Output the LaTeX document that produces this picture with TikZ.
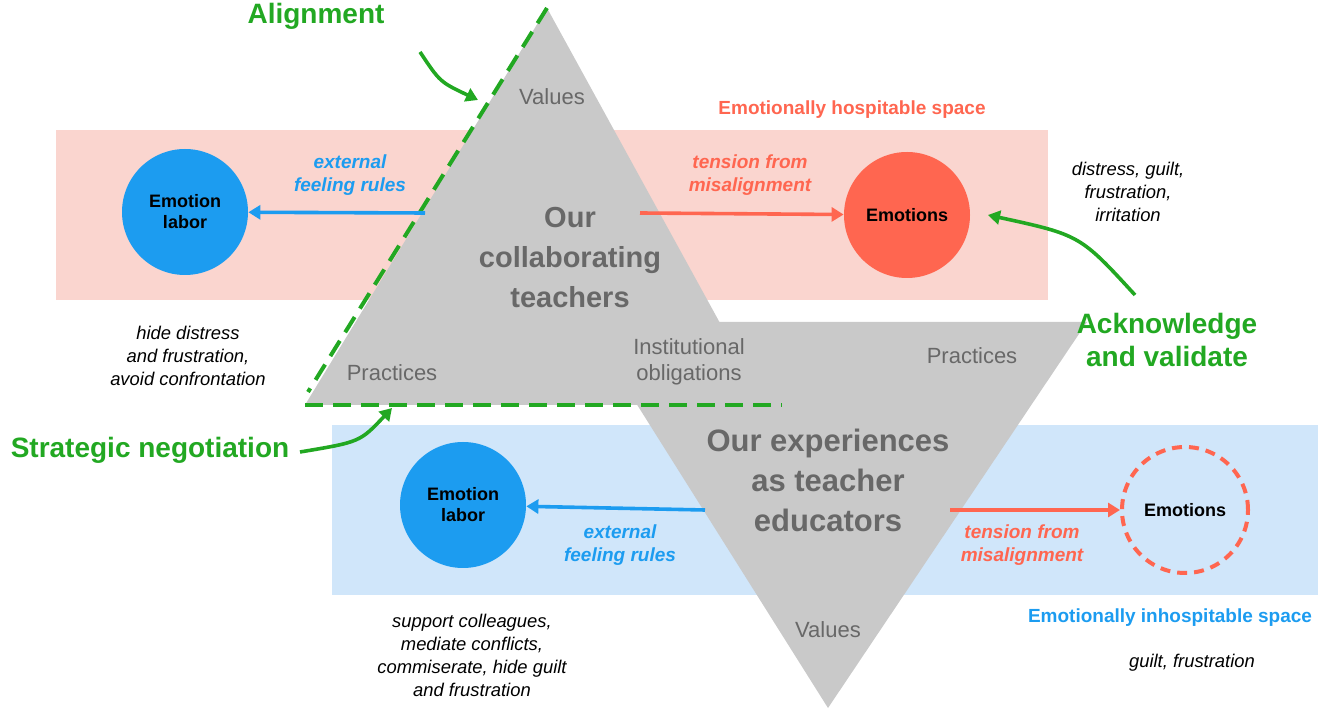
\documentclass[tikz,border=0pt]{standalone}
\usepackage{fontspec}
\setmainfont{Liberation Sans}
\usetikzlibrary{arrows.meta}
\definecolor{pinkbg}{HTML}{FAD5CF}
\definecolor{bluebg}{HTML}{D0E6FA}
\definecolor{tri}{HTML}{C9C9C9}
\definecolor{txtg}{HTML}{686868}
\definecolor{eblue}{HTML}{1C9CF0}
\definecolor{ered}{HTML}{FF6650}
\definecolor{grn}{HTML}{22A822}
\tikzset{
 circ/.style={circle,minimum size=63pt,inner sep=0pt,align=center,font=\fontsize{9}{10.5}\selectfont\bfseries},
 gtxt/.style={text=txtg,font=\fontsize{11}{13}\selectfont},
 bigt/.style={text=txtg,align=center,font=\fontsize{15.5}{20}\selectfont\bfseries},
 itx/.style={align=center,font=\fontsize{9.2}{11.5}\selectfont\itshape},
 lab/.style={align=center,font=\fontsize{9.5}{11.5}\selectfont\bfseries\itshape},
 arr/.style={line width=1.8pt,-{Triangle[length=6pt,width=7pt]}},
 garr/.style={grn,line width=1.8pt,-{Triangle[length=6pt,width=7pt]}},
 gl/.style={text=grn,align=center,font=\fontsize{14}{16.5}\selectfont\bfseries},
}
\begin{document}
\begin{tikzpicture}[x=0.5pt,y=-0.5pt]
\useasboundingbox (0,0) rectangle (1328,715);
\fill[pinkbg] (56,130) rectangle (1048,300);
\fill[bluebg] (332,425) rectangle (1318,595);
\fill[tri] (547,8) -- (305,405) -- (765,405) -- cycle;
\fill[tri] (585,322) -- (1087,322) -- (828,708) -- cycle;
\draw[grn,line width=2pt,dash pattern=on 9pt off 5pt] (547,8) -- (308,392);
\draw[grn,line width=2pt,dash pattern=on 9pt off 5pt] (305,405) -- (782,405);
% circles
\node[circ,fill=eblue] (el1) at (185,212) {Emotion\\labor};
\node[circ,fill=ered] (em1) at (907,215) {Emotions};
\node[circ,fill=eblue] (el2) at (463,505) {Emotion\\labor};
\node[circ,draw=ered,line width=2pt,dash pattern=on 5pt off 3.5pt] (em2) at (1185,510) {Emotions};
% arrows
\coordinate (a1) at (425,213); \coordinate (a2) at (640,213);
\coordinate (b1) at (705,510); \coordinate (b2) at (950,510);
\draw[arr,eblue] (a1) -- (el1);
\draw[arr,ered] (a2) -- (em1);
\draw[arr,eblue] (b1) -- (el2);
\draw[arr,ered] (b2) -- (em2);
\node[lab,text=eblue] (l1) at (350,175) {external\\feeling rules};
\node[lab,text=ered] (l2) at (750,175) {tension from\\misalignment};
\node[lab,text=eblue] (l3) at (620,545) {external\\feeling rules};
\node[lab,text=ered] (l4) at (1022,545) {tension from\\misalignment};
% triangle text
\node[gtxt] (v1) at (552,97) {Values};
\node[bigt,font=\fontsize{14.5}{20}\selectfont\bfseries] (t1) at (570,258) {Our\\collaborating\\teachers};
\node[gtxt] (p1) at (392,373) {Practices};
\node[gtxt,align=center] (io) at (689,362) {Institutional\\obligations};
\node[gtxt] (p2) at (972,356) {Practices};
\node[bigt] (t2) at (828,480) {Our experiences\\as teacher\\educators};
\node[gtxt] (v2) at (828,630) {Values};
% space labels
\node[text=ered,font=\fontsize{9.5}{11}\selectfont\bfseries] (hs) at (852,110) {Emotionally hospitable space};
\node[text=eblue,font=\fontsize{9.5}{11}\selectfont\bfseries] (is) at (1170,618) {Emotionally inhospitable space};
% italic notes
\node[itx] (n1) at (1128,192) {distress, guilt,\\frustration,\\irritation};
\node[itx] (n2) at (188,356) {hide distress\\and frustration,\\avoid confrontation};
\node[itx] (n3) at (472,655) {support colleagues,\\mediate conflicts,\\commiserate, hide guilt\\and frustration};
\node[itx] (n4) at (1192,663) {guilt, frustration};
% green
\node[gl] (g1) at (316,16) {Alignment};
\node[gl] (g2) at (1167,340) {Acknowledge\\and validate};
\node[gl] (g3) at (150,450) {Strategic negotiation};
\coordinate (g1t) at (478,100); \coordinate (g1s) at (420,52);
\coordinate (g2s) at (1135,295); \coordinate (g2t) at (988,215);
\coordinate (g3s) at (300,452); \coordinate (g3t) at (392,408);
\draw[garr] (g1s) .. controls (440,82) .. (g1t);
\draw[garr] (g2s) .. controls (1080,235) .. (g2t);
\draw[garr] (g3s) .. controls (360,442) .. (g3t);
\end{tikzpicture}
\end{document}
